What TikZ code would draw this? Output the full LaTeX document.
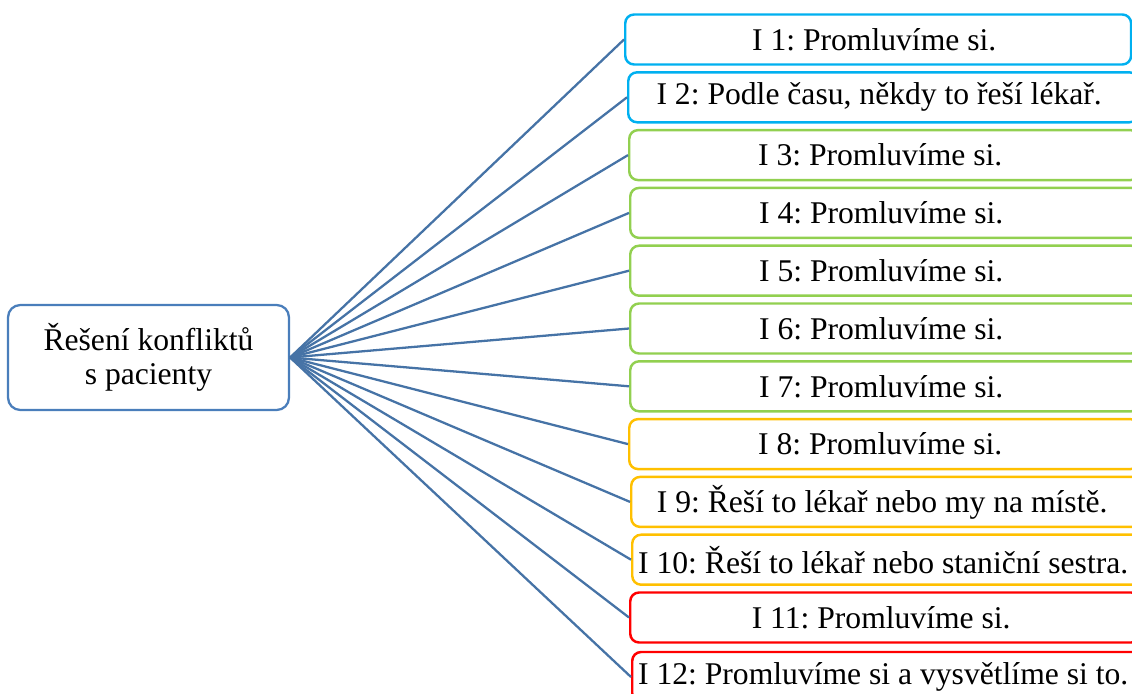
\documentclass[tikz,border=0pt]{standalone}
\usepackage{fontspec}
\setmainfont{Liberation Serif}
\frenchspacing
\definecolor{rootblue}{HTML}{4A7EBB}
\definecolor{linkblue}{HTML}{4673A6}
\definecolor{cyanbox}{HTML}{00B0F0}
\definecolor{greenbox}{HTML}{92D050}
\definecolor{goldbox}{HTML}{FFC000}
\definecolor{redbox}{HTML}{FF0000}

\begin{document}
\begin{tikzpicture}[x = 0.02cm, y = -0.02cm,
  answer/.style = {draw, fill = white, rounded corners = 5pt, line width = 1.4pt,
    minimum width = 10.2cm, minimum height = 1.0cm, inner sep = 0pt, anchor = west,
    font = \fontsize{18}{21}\selectfont, execute at end node = \hspace*{0.16cm}},
  link/.style = {draw = linkblue, line width = 1.3pt}]
\useasboundingbox (0,0) rectangle (1132,693);
\node (root) at (148.5,357.5) [draw = rootblue, line width = 1.3pt, rounded corners = 7pt,
  minimum width = 5.62cm, minimum height = 2.1cm, align = center,
  font = \fontsize{18}{19}\selectfont] {Řešení konfliktů\\s pacienty};
% odpovedi
\node (i1) at (624,39.5) [answer, draw = cyanbox, minimum width = 10.12cm,
  execute at end node = {}] {I 1: Promluvíme si.};
\node (i2) at (627,97.3) [answer, draw = cyanbox] {I 2: Podle času, někdy to řeší lékař.};
\node (i3) at (628,155.1) [answer, draw = greenbox] {I 3: Promluvíme si.};
\node (i4) at (629,212.9) [answer, draw = greenbox] {I 4: Promluvíme si.};
\node (i5) at (629,270.7) [answer, draw = greenbox] {I 5: Promluvíme si.};
\node (i6) at (629,328.5) [answer, draw = greenbox] {I 6: Promluvíme si.};
\node (i7) at (629,386.3) [answer, draw = greenbox] {I 7: Promluvíme si.};
\node (i8) at (628,444.1) [answer, draw = goldbox] {I 8: Promluvíme si.};
\node (i9) at (630,501.9) [answer, draw = goldbox] {I 9: Řeší to lékař nebo my na místě.};
\node (i10) at (631,559.7) [answer, draw = goldbox] {I 10: Řeší to lékař nebo staniční sestra.};
\node (i11) at (629,617.5) [answer, draw = redbox] {I 11: Promluvíme si.};
\node (i12) at (631,677) [answer, draw = redbox] {I 12: Promluvíme si a vysvětlíme si to.};
% spojnice
\draw [link] (root.east) -- (i1.west);
\draw [link] (root.east) -- (i2.west);
\draw [link] (root.east) -- (i3.west);
\draw [link] (root.east) -- (i4.west);
\draw [link] (root.east) -- (i5.west);
\draw [link] (root.east) -- (i6.west);
\draw [link] (root.east) -- (i7.west);
\draw [link] (root.east) -- (i8.west);
\draw [link] (root.east) -- (i9.west);
\draw [link] (root.east) -- (i10.west);
\draw [link] (root.east) -- (i11.west);
\draw [link] (root.east) -- (i12.west);
\end{tikzpicture}
\end{document}
